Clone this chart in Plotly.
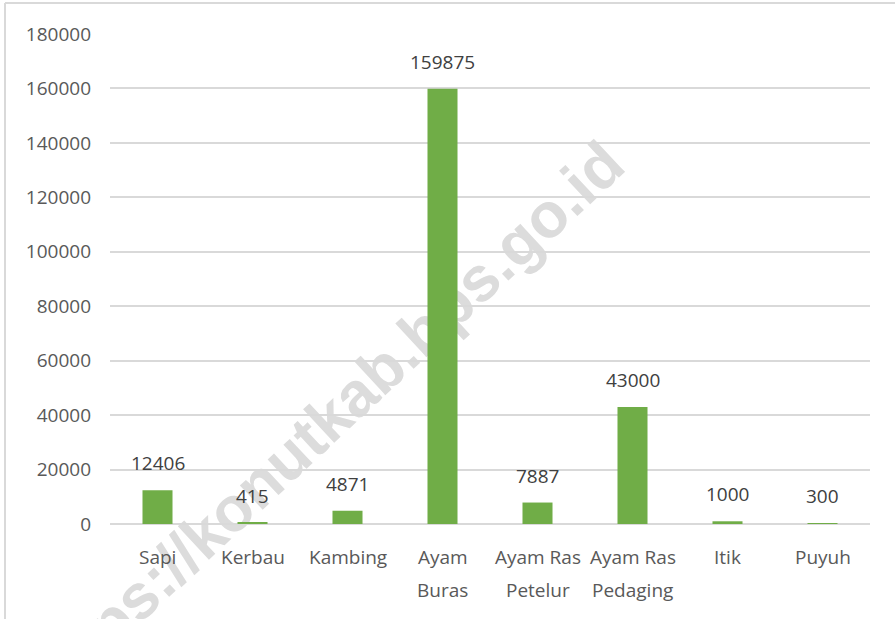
import plotly.graph_objects as go

categories = ["Sapi", "Kerbau", "Kambing", "Ayam Buras", "Ayam Ras Petelur",
              "Ayam Ras Pedaging", "Itik", "Puyuh"]
tick_lines = [["Sapi"], ["Kerbau"], ["Kambing"], ["Ayam", "Buras"], ["Ayam Ras", "Petelur"],
              ["Ayam Ras", "Pedaging"], ["Itik"], ["Puyuh"]]
values = [12406, 415, 4871, 159875, 7887, 43000, 1000, 300]
y_ticks = [0, 20000, 40000, 60000, 80000, 100000, 120000, 140000, 160000, 180000]

W, H = 895, 619
ML, MR, MT, MB = 110, 25, 34, 95
PW, PH = W - ML - MR, H - MT - MB

def px(x):
    return (x - ML) / PW

def py(y):
    return (H - MB - y) / PH

FONT = "Open Sans"
TXT = "#595959"
GREEN = "#70AD47"
GRID = "#D9D9D9"

fig = go.Figure()
fig.add_trace(go.Bar(x=categories, y=values, marker=dict(color=GREEN, line=dict(width=0)),
                     hoverinfo="x+y"))

annotations = []
for c, v in zip(categories, values):
    annotations.append(dict(x=c, y=v, xref="x", yref="y", text=str(v), showarrow=False,
                            yanchor="middle", yshift=27,
                            font=dict(family=FONT, size=19, color="#404040")))
for c, lines in zip(categories, tick_lines):
    for i, ln in enumerate(lines):
        annotations.append(dict(x=c, y=0, xref="x", yref="paper", text=ln, showarrow=False,
                                yanchor="middle", yshift=-33 - 33 * i,
                                font=dict(family=FONT, size=19, color=TXT)))

shapes = [
    # watermark
    dict(type="line", xref="paper", yref="paper", x0=px(102), y0=py(622), x1=px(540), y1=py(212),
         line=dict(width=0, color="rgba(0,0,0,0)"), layer="below",
         label=dict(text="https://konutkab.bps.go.id", textposition="middle", textangle=-43,
                    yanchor="middle", xanchor="center",
                    font=dict(family="Liberation Sans", size=63, color="rgb(220,220,220)",
                              weight="bold"))),
    # chart border
    dict(type="line", xref="paper", yref="paper", x0=px(5), y0=py(3), x1=px(900), y1=py(3),
         line=dict(width=2, color=GRID)),
    dict(type="line", xref="paper", yref="paper", x0=px(5), y0=py(3), x1=px(5), y1=py(625),
         line=dict(width=2, color=GRID)),
]

fig.update_layout(
    width=W, height=H,
    margin=dict(l=ML, r=MR, t=MT, b=MB),
    paper_bgcolor="white", plot_bgcolor="white",
    showlegend=False,
    bargap=0.684,
    annotations=annotations,
    shapes=shapes,
    xaxis=dict(showticklabels=False, showgrid=False, zeroline=False, showline=False, ticks=""),
    yaxis=dict(range=[0, 180000], tickvals=y_ticks, ticktext=[str(t) for t in y_ticks],
               showgrid=True, gridcolor=GRID, gridwidth=1.5, zeroline=True, zerolinecolor=GRID,
               zerolinewidth=1.5, showline=False, ticks="", ticklabelstandoff=18,
               tickfont=dict(family=FONT, size=19, color=TXT)),
)

fig.write_html("out.html", config={"displayModeBar": False},
               post_script="document.body.style.margin='0';document.body.style.overflow='hidden';")
